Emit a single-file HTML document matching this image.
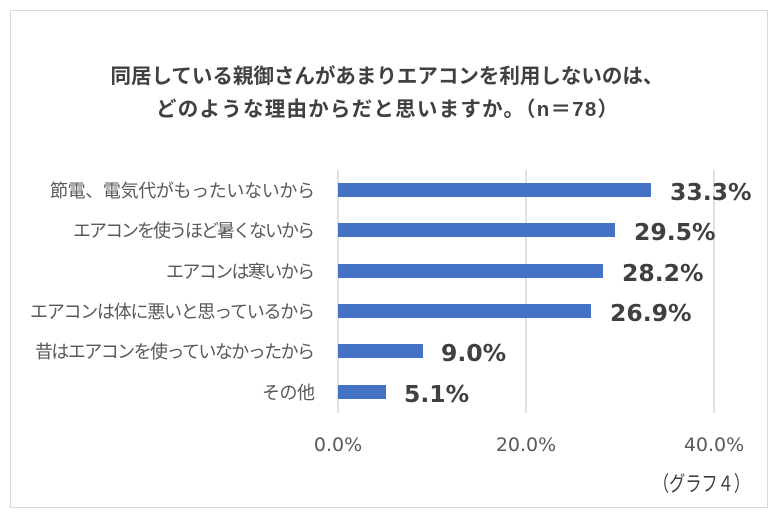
<!DOCTYPE html>
<html><head><meta charset="utf-8"><style>
body{margin:0;width:780px;height:522px;background:#fff;overflow:hidden}
svg text{font-family:"Liberation Sans","Noto Sans CJK JP",sans-serif}
svg text.n{font-family:"DejaVu Sans","Noto Sans CJK JP",sans-serif}
</style></head><body>
<svg width="780" height="522" xmlns="http://www.w3.org/2000/svg">
<rect x="10.5" y="10.5" width="757" height="497" fill="#fff" stroke="#d9d9d9"/>
<g font-weight="bold" font-size="20.5" fill="#404040" text-anchor="middle">
<text x="387" y="83">同居している親御さんがあまりエアコンを利用しないのは、</text>
<text x="387" y="116" textLength="462">どのような理由からだと思いますか。（n＝78）</text>
</g>
<g stroke="#d9d9d9" stroke-width="1.5">
<line x1="338" y1="170" x2="338" y2="413"/>
<line x1="526" y1="170" x2="526" y2="413"/>
<line x1="714" y1="170" x2="714" y2="413"/>
</g>
<g fill="#4472c4">
<rect x="338" y="183" width="313" height="14"/>
<rect x="338" y="223" width="277" height="14"/>
<rect x="338" y="264" width="265" height="14"/>
<rect x="338" y="304" width="253" height="14"/>
<rect x="338" y="344" width="85" height="14"/>
<rect x="338" y="385" width="48" height="14"/>
</g>
<g font-size="18" fill="#595959" lengthAdjust="spacingAndGlyphs">
<text x="50" y="197" textLength="265">節電、電気代がもったいないから</text>
<text x="73" y="237" textLength="242">エアコンを使うほど暑くないから</text>
<text x="166" y="278" textLength="149">エアコンは寒いから</text>
<text x="30" y="318" textLength="285">エアコンは体に悪いと思っているから</text>
<text x="35" y="358" textLength="280">昔はエアコンを使っていなかったから</text>
<text x="262" y="399" textLength="53">その他</text>
</g>
<g font-size="23.5" font-weight="bold" fill="#404040">
<text class="n" x="670" y="200">33.3%</text>
<text class="n" x="634" y="240">29.5%</text>
<text class="n" x="622" y="281">28.2%</text>
<text class="n" x="610" y="321">26.9%</text>
<text class="n" x="441" y="361">9.0%</text>
<text class="n" x="404" y="402">5.1%</text>
</g>
<g font-size="19" fill="#595959" text-anchor="middle">
<text class="n" x="338" y="451">0.0%</text>
<text class="n" x="526" y="451">20.0%</text>
<text class="n" x="714" y="451">40.0%</text>
</g>
<text x="653" y="491" font-size="21" fill="#404040" textLength="97" lengthAdjust="spacingAndGlyphs">（グラフ４）</text>
</svg>
</body></html>
